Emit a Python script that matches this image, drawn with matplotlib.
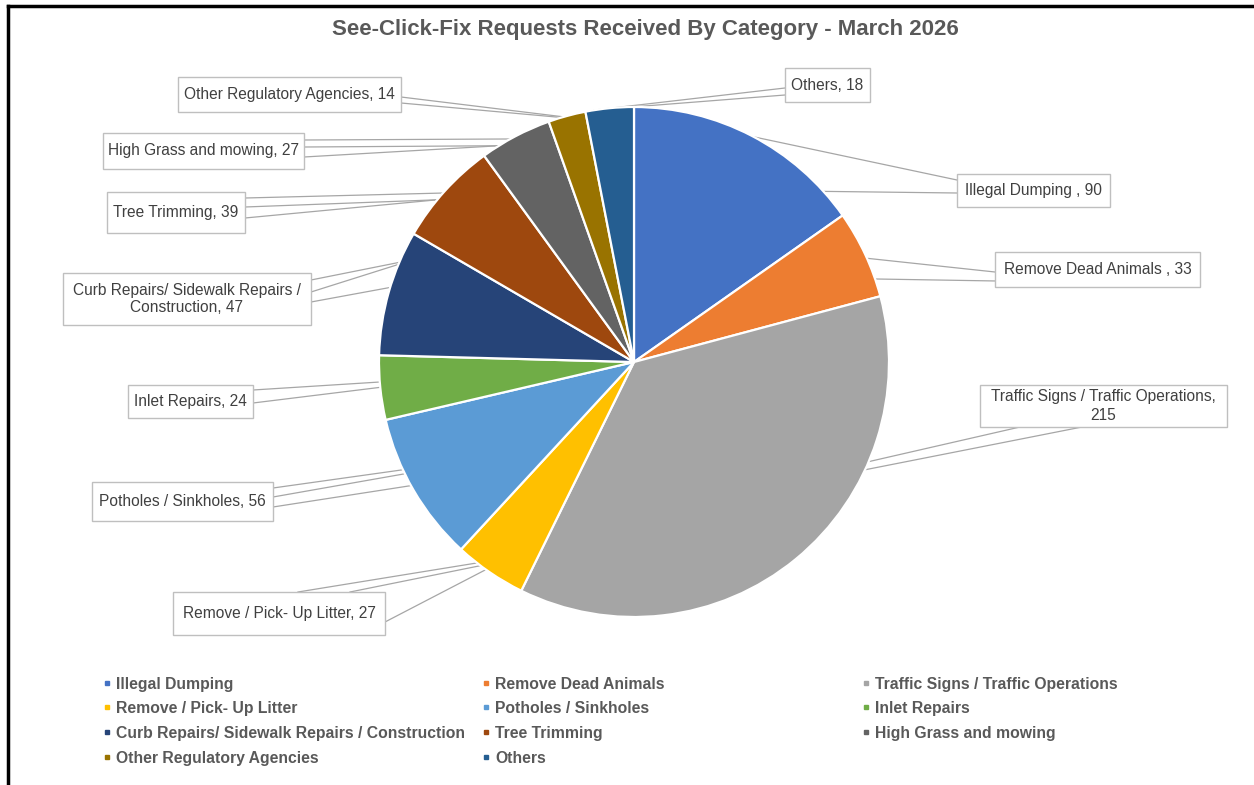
import numpy as np
import matplotlib
matplotlib.use("Agg")
import matplotlib.pyplot as plt
from matplotlib.patches import Rectangle
from matplotlib.lines import Line2D

plt.rcParams['font.family'] = ['Liberation Sans', 'DejaVu Sans']

# data
categories = ["Illegal Dumping ", "Remove Dead Animals ", "Traffic Signs / Traffic Operations",
              "Remove / Pick- Up Litter", "Potholes / Sinkholes", "Inlet Repairs",
              "Curb Repairs/ Sidewalk Repairs / Construction", "Tree Trimming",
              "High Grass and mowing", "Other Regulatory Agencies", "Others"]
counts = [90, 33, 215, 27, 56, 24, 47, 39, 27, 14, 18]
colors = ['#4472C4', '#ED7D31', '#A5A5A5', '#FFC000', '#5B9BD5', '#70AD47',
          '#264478', '#9E480E', '#636363', '#997300', '#255E91']
title = "See-Click-Fix Requests Received By Category - March 2026"

# figure in pixel units (y measured from top)
W, H = 1254, 785
cx, cy, rad = 634, 362, 255

# label box (left, top, right, bottom) and leader lines: (box point, angle on pie, deg clockwise from top)
label_boxes = [
    ((957, 174, 1110, 207), [((957, 180), 28), ((957, 193), 48)]),
    ((995, 252, 1200, 287), [((995, 272), 66), ((997, 281), 71)]),
    ((980, 385, 1227, 427), [((1020, 427), 113), ((1082, 427), 115)]),
    ((173, 592, 385, 635), [((298, 592), 218), ((350, 592), 217), ((385, 622), 215.5)]),
    ((92, 482, 273, 521), [((273, 488), 245), ((273, 497), 244), ((273, 507), 241)]),
    ((128, 385, 253, 418), [((253, 390), 265.5), ((253, 403), 264.3)]),
    ((63, 273, 311, 325), [((311, 280), 293), ((311, 292), 292.5), ((311, 302), 287)]),
    ((107, 192, 245, 233), [((245, 198), 311.5), ((245, 207), 309.5), ((245, 218), 309.5)]),
    ((103, 133, 304, 169), [((304, 140), 331), ((304, 147), 328), ((304, 157), 328)]),
    ((178, 77, 401, 112), [((401, 97), 344), ((401, 103), 343.5)]),
    ((785, 68, 870, 102), [((785, 88), 355.5), ((785, 95), 359.5)]),
]
wrap = {2: "Traffic Signs / Traffic Operations,\n215",
        6: "Curb Repairs/ Sidewalk Repairs /\nConstruction, 47"}

fig = plt.figure(figsize=(W / 100, H / 100), dpi=100)
ax = fig.add_axes([0, 0, 1, 1])
wedges, _ = ax.pie(counts, colors=colors, startangle=90, counterclock=False,
                   center=(cx, H - cy), radius=rad,
                   wedgeprops=dict(edgecolor='white', linewidth=1.6))
for w in wedges:
    w.set_zorder(2)
ax.set_xlim(0, W)
ax.set_ylim(0, H)
ax.set_aspect('equal')
ax.axis('off')

# callout boxes + leader lines (lines go under the pie)
for i, (box, leaders) in enumerate(label_boxes):
    l, t, r, b = box
    for (bx, by), ang in leaders:
        a = np.radians(ang)
        ex, ey = cx + rad * np.sin(a), cy - rad * np.cos(a)
        d = np.hypot(ex - bx, ey - by)
        ex2, ey2 = ex + (ex - bx) / d * 20, ey + (ey - by) / d * 20
        ax.plot([bx, ex2], [H - by, H - ey2], color='#A6A6A6', lw=0.9, zorder=1)
    ax.add_patch(Rectangle((l, H - b), r - l, b - t, facecolor='white',
                           edgecolor='#BFBFBF', lw=1, zorder=3))
    txt = wrap.get(i, f"{categories[i]}, {counts[i]}")
    ax.text((l + r) / 2, H - (t + b) / 2, txt, ha='center', va='center',
            fontsize=11.2, color='#404040', zorder=4, linespacing=1.25)

# title
fig.text(645 / W, 1 - 30 / H, title, ha='center', va='center', fontsize=16,
         fontweight='bold', color='#595959')

# legend (row-major, 3 columns)
col_x = [107, 486, 866]
row_y = [683, 707, 732, 757]
for i, cat in enumerate(categories):
    x, y = col_x[i % 3], row_y[i // 3]
    ax.plot(x, H - y, marker='s', ms=3.5, color=colors[i], ls='none')
    ax.text(x + 9, H - y, cat.strip(), ha='left', va='center_baseline', fontsize=11.3,
            fontweight='bold', color='#595959')

# frame (top + left edge)
fig.add_artist(Line2D([8 / W, 1], [1 - 6 / H, 1 - 6 / H], transform=fig.transFigure,
                      color='black', lw=2.5))
fig.add_artist(Line2D([8 / W, 8 / W], [0, 1 - 6 / H], transform=fig.transFigure,
                      color='black', lw=2.5))

fig.savefig('out.png', dpi=100)
